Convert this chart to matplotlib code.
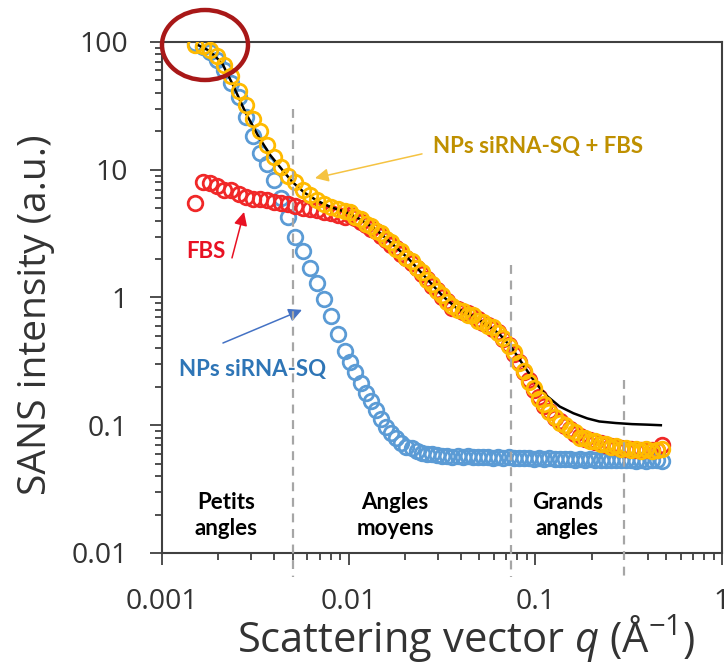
import matplotlib.pyplot as plt
from matplotlib.patches import Ellipse

plt.rcParams['font.family'] = ['Open Sans', 'DejaVu Sans']
plt.rcParams['mathtext.fontset'] = 'custom'
plt.rcParams['mathtext.rm'] = 'Open Sans'
plt.rcParams['mathtext.it'] = 'Open Sans:italic'

# vecteur de diffusion q (A^-1), grille commune aux trois mesures
q = [0.00150, 0.00165, 0.00180, 0.00197, 0.00215, 0.00235, 0.00257, 0.00280,
     0.00306, 0.00334, 0.00365, 0.00398, 0.00435, 0.00475, 0.00518, 0.00566,
     0.00618, 0.00675, 0.00737, 0.00805, 0.00879, 0.00960,
     0.0102, 0.01086, 0.01157, 0.01232, 0.01312, 0.01398, 0.01488, 0.01585, 0.01688, 0.01798,
     0.01915, 0.02039, 0.02172, 0.02313, 0.02463, 0.02623, 0.02794, 0.02975, 0.03169, 0.03375,
     0.03594, 0.03828, 0.04077, 0.04342, 0.04624, 0.04924, 0.05244, 0.05585, 0.05948, 0.06335,
     0.06747, 0.07185, 0.07652, 0.0815, 0.08679, 0.09243, 0.09844, 0.1048, 0.1117, 0.1189,
     0.1267, 0.1349, 0.1437, 0.1530, 0.1630, 0.1736, 0.1849, 0.1969, 0.2097, 0.2233,
     0.2378, 0.2533, 0.2697, 0.2873, 0.3059, 0.3258, 0.3470, 0.3696, 0.3936, 0.4192,
     0.4464, 0.4754]

# NPs siRNA-SQ
np_sirna = [98, 92, 83, 72, 60, 48, 37, 26, 18.5, 13.5, 11, 8.3, 6.0, 4.3, 3.0, 2.3,
            1.7, 1.3, 0.98, 0.72, 0.52, 0.38,
            0.31, 0.26, 0.215, 0.18, 0.155, 0.132, 0.112, 0.097, 0.087, 0.079,
            0.073, 0.068, 0.066, 0.063, 0.061, 0.060, 0.059, 0.058, 0.0575, 0.057,
            0.0568, 0.0575, 0.0565, 0.057, 0.0563, 0.0568, 0.056, 0.0565, 0.0558, 0.0562,
            0.0555, 0.056, 0.0553, 0.0558, 0.055, 0.0555, 0.0548, 0.0552, 0.0545, 0.055,
            0.0543, 0.0548, 0.054, 0.0545, 0.0538, 0.0543, 0.0536, 0.054, 0.0535, 0.0538,
            0.0533, 0.0537, 0.0532, 0.0535, 0.053, 0.0534, 0.0529, 0.0533, 0.0528, 0.0532,
            0.053, 0.0528]

# FBS
fbs = [5.5, 8.0, 7.8, 7.5, 7.0, 6.9, 6.4, 6.1, 5.9, 5.9, 5.8, 5.6, 5.5, 5.35, 5.2, 5.05,
       4.95, 4.85, 4.7, 4.55, 4.45, 4.3,
       4.45, 4.2, 3.9, 3.72, 3.45, 3.3, 3.02, 2.84, 2.58, 2.42,
       2.18, 2.05, 1.85, 1.70, 1.52, 1.39, 1.22, 1.14, 1.01, 0.93,
       0.83, 0.81, 0.77, 0.75, 0.71, 0.68, 0.63, 0.61, 0.57, 0.535,
       0.47, 0.425, 0.36, 0.31, 0.26, 0.225, 0.188, 0.165, 0.142, 0.13,
       0.113, 0.107, 0.098, 0.093, 0.086, 0.082, 0.078, 0.077, 0.0735, 0.0725,
       0.0695, 0.069, 0.067, 0.0665, 0.065, 0.0648, 0.064, 0.0642, 0.0636, 0.0638,
       0.0645, 0.070]

# NPs siRNA-SQ + FBS
np_sirna_fbs = [95, 93, 86, 77, 66, 54, 41, 32, 25, 20, 15.5, 12.5, 10.5, 9.0, 8.0, 7.0,
                6.3, 5.8, 5.4, 5.1, 4.9, 4.75,
                4.7, 4.28, 4.12, 3.76, 3.64, 3.31, 3.20, 2.85, 2.72, 2.40,
                2.30, 2.03, 1.94, 1.69, 1.58, 1.36, 1.28, 1.12, 1.05, 0.92,
                0.86, 0.80, 0.79, 0.73, 0.73, 0.66, 0.645, 0.595, 0.585, 0.525,
                0.48, 0.415, 0.372, 0.305, 0.268, 0.219, 0.194, 0.160, 0.146, 0.127,
                0.117, 0.104, 0.1005, 0.091, 0.088, 0.0798, 0.0797, 0.0755, 0.0752, 0.0713,
                0.0711, 0.068, 0.0684, 0.0656, 0.066, 0.0639, 0.0652, 0.0633, 0.0646, 0.0628,
                0.0641, 0.065]

# ajustement (ligne noire)
fit_q = [0.00155, 0.0018, 0.0021, 0.0024, 0.0028, 0.0033, 0.0038, 0.0044, 0.0050, 0.0058,
         0.0068, 0.0080, 0.0095, 0.0115, 0.014, 0.017, 0.021, 0.026, 0.032, 0.038,
         0.046, 0.055, 0.064, 0.075, 0.087, 0.100, 0.115, 0.135, 0.160, 0.19,
         0.22, 0.27, 0.33, 0.40, 0.47]
fit_i = [95, 85, 68, 46, 28, 18, 13, 10, 8.0, 6.6,
         5.7, 5.1, 4.7, 4.1, 3.4, 2.65, 2.0, 1.42, 1.02, 0.82,
         0.72, 0.61, 0.52, 0.40, 0.29, 0.215, 0.170, 0.140, 0.124, 0.113,
         0.107, 0.104, 0.102, 0.101, 0.100]

region_bounds = [0.005, 0.074, 0.30]
region_tops = [30, 1.8, 0.226]
region_names = ['Petits\nangles', 'Angles\nmoyens', 'Grands\nangles']
region_x = [0.0022, 0.0177, 0.148]

fig = plt.figure(figsize=(7.24, 6.66), dpi=100)
ax = fig.add_axes([0.2238, 0.1697, 0.7735, 0.7673])

mk = dict(marker='o', ls='none', mfc='none', ms=10.5, mew=2.0)
ax.plot(q, np_sirna, mec='#5B9BD5', zorder=2, **mk)
ax.plot(q, fbs, mec='#F02828', zorder=3, **mk)
ax.plot(fit_q, fit_i, '-', color='black', lw=1.8, zorder=4)
ax.plot(q, np_sirna_fbs, mec='#FFBA00', zorder=5, **mk)

for b, t in zip(region_bounds, region_tops):
    ax.plot([b, b], [t, 0.0065], color='#A6A6A6', lw=1.6, ls=(0, (4, 3)),
            clip_on=False, zorder=6)

ax.set_xscale('log')
ax.set_yscale('log')
ax.set_xlim(0.001, 1)
ax.set_ylim(0.01, 100)
ax.set_xticks([0.001, 0.01, 0.1, 1], ['0.001', '0.01', '0.1', '1'])
ax.set_yticks([0.01, 0.1, 1, 10, 100], ['0.01', '0.1', '1', '10', '100'])

for s in ax.spines.values():
    s.set_linewidth(1.5)
    s.set_color('#404040')
ax.tick_params(which='both', direction='out', top=False, right=False,
               width=1.3, color='#404040', labelcolor='#333333', labelsize=20.5)
ax.tick_params(which='major', length=8.5)
ax.tick_params(which='minor', length=5)
ax.tick_params(axis='x', pad=17)
ax.tick_params(axis='y', pad=16)

fig.text(36 / 724, 1 - 315 / 666, 'SANS intensity (a.u.)', rotation=90,
         ha='center', va='center', fontsize=28, color='#333333')
fig.text(466 / 724, 1 - 639 / 666, 'Scattering vector $q$ (Å$^{-1}$)',
         ha='center', va='center', fontsize=30, color='#333333')

for name, x in zip(region_names, region_x):
    ax.text(x, 0.0195, name, ha='center', va='center', fontsize=16,
            fontweight='bold', family='Lato', linespacing=1.3)

lab = dict(fontsize=16, fontweight='bold', family='Lato', va='center')
ax.text(0.0283, 15.1, 'NPs siRNA-SQ + FBS', color='#BF9000', ha='left', **lab)
ax.text(0.00172, 2.27, 'FBS', color='#E81123', ha='center', **lab)
ax.text(0.00307, 0.271, 'NPs siRNA-SQ', color='#2E75B6', ha='center', **lab)

arr = dict(arrowstyle='-|>', lw=1.1, mutation_scale=20, shrinkA=0, shrinkB=0)
ax.annotate('', xy=(0.0066, 8.6), xytext=(0.0247, 13.3),
            arrowprops=dict(color='#F5C342', **arr))
ax.annotate('', xy=(0.00275, 4.67), xytext=(0.00237, 2.04),
            arrowprops=dict(color='#E81123', **arr))
ax.annotate('', xy=(0.00562, 0.80), xytext=(0.00212, 0.44),
            arrowprops=dict(color='#4472C4', **arr))

fig.add_artist(Ellipse((205 / 724, 1 - 45 / 666), 86 / 724, 70 / 666,
                       transform=fig.transFigure, fill=False,
                       ec='#A81818', lw=3.2))

plt.savefig('out.png')
